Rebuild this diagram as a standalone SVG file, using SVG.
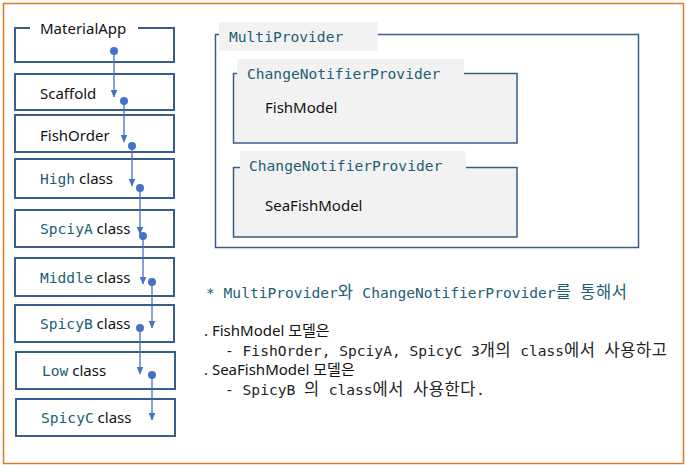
<svg xmlns="http://www.w3.org/2000/svg" width="687" height="467" viewBox="0 0 687 467">
<defs>
<style>
.box{fill:#fff;stroke:#385D8A;stroke-width:2}
.pbox{fill:#F2F2F2;stroke:#385D8A;stroke-width:1.5}
.frame{fill:none;stroke:#385D8A;stroke-width:1.5}
.lbl{fill:#F2F2F2}
.sans{font-family:"Noto Sans","Noto Sans CJK KR",sans-serif;font-size:15px;fill:#111}
.mono{font-family:"DejaVu Sans Mono","Noto Sans CJK KR",monospace;font-size:14.6px;fill:#215E73}
.dark{fill:#222}
.ko{font-size:16.5px;letter-spacing:0.6px}
.conn{stroke:#4472C4;stroke-width:1.3;fill:none;marker-end:url(#arr)}
.dot{fill:#4472C4}
</style>
<marker id="arr" viewBox="0 0 8 8" refX="7.5" refY="4" markerWidth="8" markerHeight="8" markerUnits="userSpaceOnUse" orient="auto">
<path d="M0,0.5 L8,4 L0,7.5 z" fill="#4472C4"/>
</marker>
</defs>
<rect x="0" y="0" width="687" height="467" fill="#fff"/>
<rect x="3.5" y="3.5" width="680" height="460" fill="none" stroke="#E07A1F" stroke-width="1.5"/>

<g id="MaterialApp">
<path d="M30,28 H15 V62 H174 V28 H138" class="box" fill="none"/>
<text x="40" y="34" class="sans">MaterialApp</text>
</g>
<g id="Scaffold"><rect x="15" y="74" width="159" height="36" class="box"/><text x="40" y="99" class="sans">Scaffold</text></g>
<g id="FishOrder"><rect x="15" y="115" width="159" height="37" class="box"/><text x="40" y="141" class="sans">FishOrder</text></g>
<g id="High"><rect x="15" y="159" width="159" height="39" class="box"/><text x="40" y="184" class="sans"><tspan class="mono">High</tspan> class</text></g>
<g id="SpciyA"><rect x="15" y="210" width="159" height="37" class="box"/><text x="40" y="234" class="sans"><tspan class="mono">SpciyA</tspan> class</text></g>
<g id="Middle"><rect x="15" y="258" width="159" height="38" class="box"/><text x="40" y="283" class="sans"><tspan class="mono">Middle</tspan> class</text></g>
<g id="SpicyB"><rect x="15" y="305" width="159" height="37" class="box"/><text x="40" y="329" class="sans"><tspan class="mono">SpicyB</tspan> class</text></g>
<g id="Low"><rect x="16" y="352" width="159" height="37" class="box"/><text x="42" y="376" class="sans"><tspan class="mono">Low</tspan> class</text></g>
<g id="SpicyC"><rect x="16" y="399" width="159" height="37" class="box"/><text x="41" y="423" class="sans"><tspan class="mono">SpicyC</tspan> class</text></g>

<g id="connectors">
<line x1="114" y1="51" x2="114" y2="97" class="conn"/><circle cx="114" cy="51" r="4" class="dot"/>
<line x1="124" y1="101" x2="124" y2="142" class="conn"/><circle cx="124" cy="101" r="4" class="dot"/>
<line x1="132" y1="146" x2="132" y2="186" class="conn"/><circle cx="132" cy="146" r="4" class="dot"/>
<line x1="140" y1="188" x2="140" y2="234" class="conn"/><circle cx="140" cy="188" r="4" class="dot"/>
<line x1="143" y1="236" x2="143" y2="284" class="conn"/><circle cx="143" cy="236" r="4" class="dot"/>
<line x1="152" y1="282" x2="152" y2="328" class="conn"/><circle cx="152" cy="282" r="4" class="dot"/>
<line x1="140" y1="328" x2="140" y2="374" class="conn"/><circle cx="140" cy="328" r="4" class="dot"/>
<line x1="152" y1="375" x2="152" y2="420" class="conn"/><circle cx="152" cy="375" r="4" class="dot"/>
</g>

<g id="MultiProvider">
<rect x="215.5" y="34.5" width="423" height="213" class="frame"/>
<rect x="219" y="22" width="159" height="29" class="lbl"/>
<text x="229" y="42" class="mono">MultiProvider</text>
</g>
<g id="ChangeNotifierProvider1">
<rect x="233.5" y="73.5" width="283.5" height="69.5" class="pbox"/>
<rect x="237" y="59" width="227" height="17" class="lbl"/>
<text x="247" y="79" class="mono">ChangeNotifierProvider</text>
<text x="265" y="113" class="sans">FishModel</text>
</g>
<g id="ChangeNotifierProvider2">
<rect x="233.5" y="167.5" width="283.5" height="69.5" class="pbox"/>
<rect x="240" y="151" width="226" height="19" class="lbl"/>
<text x="249" y="171" class="mono">ChangeNotifierProvider</text>
<text x="265" y="211" class="sans">SeaFishModel</text>
</g>

<g id="notes">
<text x="206" y="298" class="mono">* MultiProvider<tspan class="ko">와</tspan> ChangeNotifierProvider<tspan class="ko">를</tspan> <tspan class="ko">통해서</tspan></text>
<text x="204" y="336" class="sans">. FishModel 모델은</text>
<text x="225" y="356" class="mono dark">- FishOrder, SpciyA, SpicyC 3<tspan class="ko">개의</tspan> class<tspan class="ko">에서</tspan> <tspan class="ko">사용하고</tspan></text>
<text x="204" y="375" class="sans">. SeaFishModel 모델은</text>
<text x="225" y="395" class="mono dark">- SpicyB <tspan class="ko">의</tspan> class<tspan class="ko">에서</tspan> <tspan class="ko">사용한다</tspan>.</text>
</g>
</svg>
